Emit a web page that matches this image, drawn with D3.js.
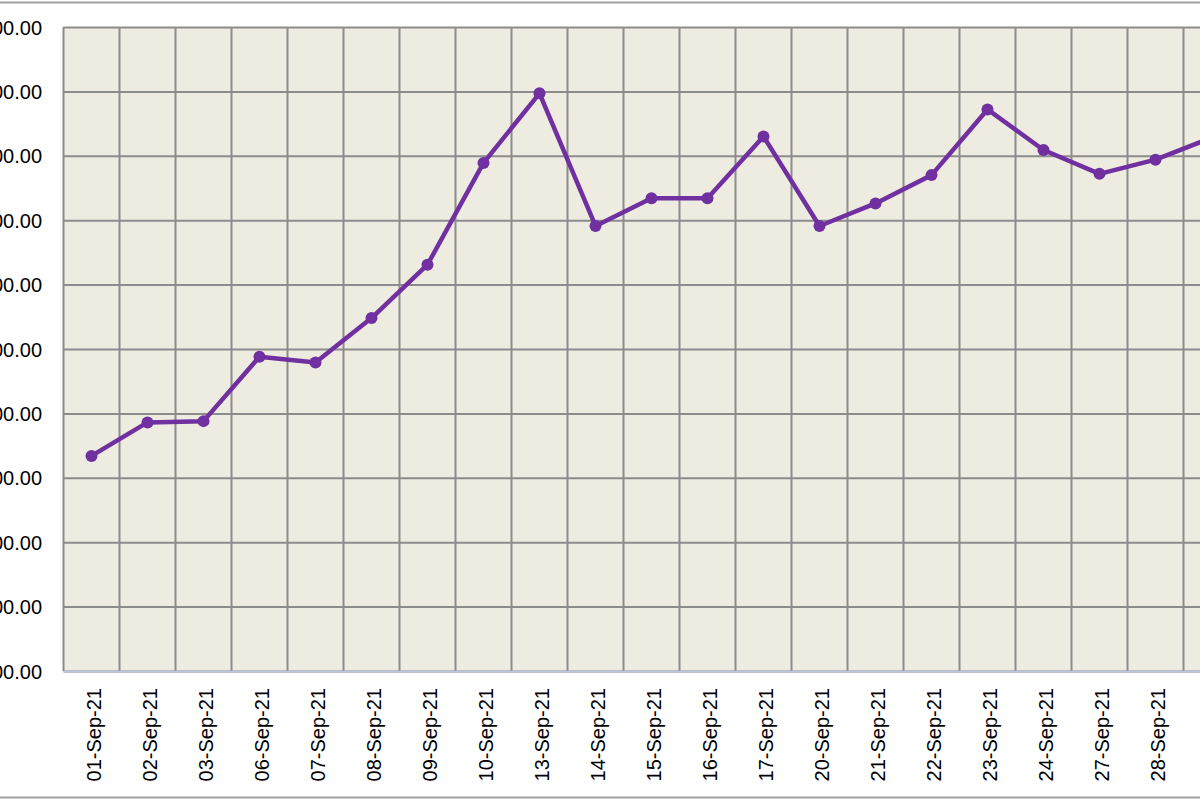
<!DOCTYPE html>
<html>
<head>
<meta charset="utf-8">
<script src="https://cdn.jsdelivr.net/npm/d3@7"></script>
<style>
  html, body { margin: 0; padding: 0; background: #ffffff; }
  svg { display: block; }
</style>
</head>
<body>
<svg id="chart" width="1200" height="800"></svg>
<script>
// ---- data ----
const categories = ["01-Sep-21","02-Sep-21","03-Sep-21","06-Sep-21","07-Sep-21","08-Sep-21","09-Sep-21","10-Sep-21","13-Sep-21","14-Sep-21","15-Sep-21","16-Sep-21","17-Sep-21","20-Sep-21","21-Sep-21","22-Sep-21","23-Sep-21","24-Sep-21","27-Sep-21","28-Sep-21","29-Sep-21"];
const values = [1334, 1386, 1388, 1488, 1479, 1548, 1631, 1789, 1897, 1691, 1734, 1734, 1830, 1691, 1726, 1770, 1872, 1809, 1772, 1794, 1828];
const yTicks = [1000, 1100, 1200, 1300, 1400, 1500, 1600, 1700, 1800, 1900, 2000];

(function () {
// ---- layout ----
const svg = d3.select("#chart");
const pLeft = 63.5, pTop = 27, pBottom = 671;
const step = 56;
const pRight = pLeft + step * categories.length;

const x = d3.scaleBand().domain(categories).range([pLeft, pRight]).paddingInner(0).paddingOuter(0);
const y = d3.scaleLinear().domain([yTicks[0], yTicks[yTicks.length - 1]]).range([pBottom, pTop]);

// outer chart border lines
svg.append("line").attr("x1", 0).attr("x2", 1200).attr("y1", 2.5).attr("y2", 2.5)
  .attr("stroke", "#a0a0a0").attr("stroke-width", 2);
svg.append("line").attr("x1", 0).attr("x2", 1200).attr("y1", 797.5).attr("y2", 797.5)
  .attr("stroke", "#a0a0a0").attr("stroke-width", 2);

// plot background
svg.append("rect").attr("x", pLeft).attr("y", pTop).attr("width", pRight - pLeft).attr("height", pBottom - pTop)
  .attr("fill", "#eeebe1");

// horizontal gridlines
const gridY = d3.axisLeft(y).tickValues(yTicks).tickSize(-(pRight - pLeft)).tickFormat("");
svg.append("g").attr("transform", `translate(${pLeft},0)`).call(gridY)
  .call(g => g.select(".domain").remove())
  .call(g => g.selectAll("line").attr("stroke", "#8c8c8c").attr("stroke-width", 2));

// vertical gridlines (category boundaries)
const boundaries = categories.map(c => x(c)).concat([pRight]);
svg.append("g").selectAll("line").data(boundaries).join("line")
  .attr("x1", d => d).attr("x2", d => d).attr("y1", pTop).attr("y2", pBottom)
  .attr("stroke", "#8c8c8c").attr("stroke-width", 2);

// x axis line
svg.append("line").attr("x1", pLeft).attr("x2", pRight).attr("y1", pBottom + 0.5).attr("y2", pBottom + 0.5)
  .attr("stroke", "#b8c6df").attr("stroke-width", 1.5);

// y axis labels
const yAxis = d3.axisLeft(y).tickValues(yTicks).tickSize(0).tickPadding(0).tickFormat(d3.format(".2f"));
svg.append("g").attr("transform", `translate(42,0)`).call(yAxis)
  .call(g => g.select(".domain").remove())
  .call(g => g.selectAll("text").attr("font-family", "'Liberation Sans', Arial, sans-serif")
    .attr("font-size", 20).attr("fill", "#000").attr("dy", "0.35em"));

// x axis labels (rotated)
const xAxis = d3.axisBottom(x).tickSize(0).tickPadding(0);
svg.append("g").attr("transform", `translate(0,${pBottom})`).call(xAxis)
  .call(g => g.select(".domain").remove())
  .call(g => g.selectAll("text")
    .attr("font-family", "'Liberation Sans', Arial, sans-serif")
    .attr("font-size", 20).attr("fill", "#000")
    .attr("text-anchor", "end")
    .attr("transform", "translate(2,17) rotate(-90)")
    .attr("x", 0).attr("y", 0).attr("dy", "0.36em"));

// line series
const cx = d => x(d.c) + x.bandwidth() / 2;
const pts = categories.map((c, i) => ({ c, v: values[i] }));
const line = d3.line().x(cx).y(d => y(d.v));
svg.append("path").datum(pts).attr("d", line)
  .attr("fill", "none").attr("stroke", "#7030a0").attr("stroke-width", 4.5)
  .attr("stroke-linejoin", "round");
svg.append("g").selectAll("circle").data(pts).join("circle")
  .attr("cx", cx).attr("cy", d => y(d.v)).attr("r", 6)
  .attr("fill", "#7030a0");
})();
</script>
</body>
</html>
